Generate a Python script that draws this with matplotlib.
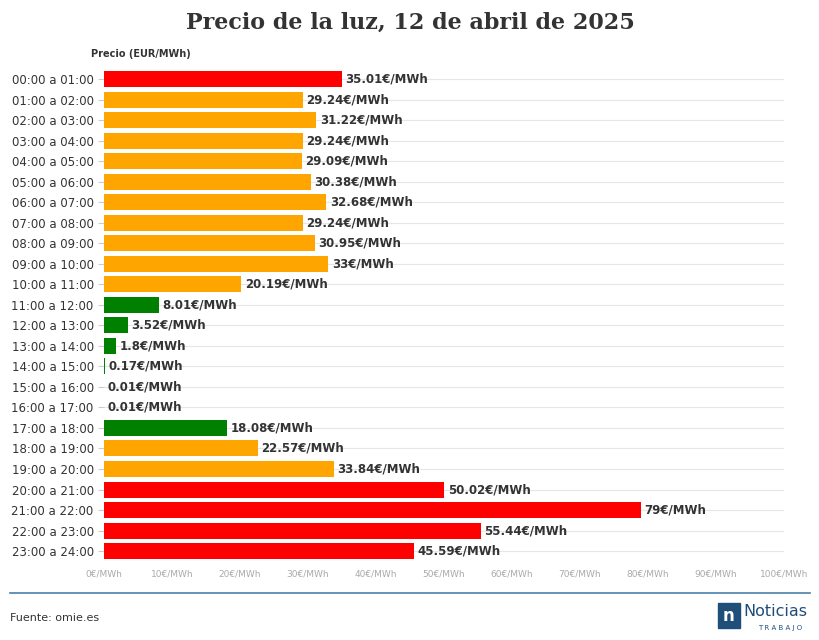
import matplotlib
matplotlib.use("Agg")
import matplotlib.pyplot as plt
from matplotlib.patches import Rectangle

hours = [f"{h:02d}:00 a {h+1:02d}:00" for h in range(24)]
prices = [35.01, 29.24, 31.22, 29.24, 29.09, 30.38, 32.68, 29.24, 30.95, 33, 20.19, 8.01,
          3.52, 1.8, 0.17, 0.01, 0.01, 18.08, 22.57, 33.84, 50.02, 79, 55.44, 45.59]
labels = ["35.01", "29.24", "31.22", "29.24", "29.09", "30.38", "32.68", "29.24", "30.95", "33",
          "20.19", "8.01", "3.52", "1.8", "0.17", "0.01", "0.01", "18.08", "22.57", "33.84",
          "50.02", "79", "55.44", "45.59"]
levels = ["r", "o", "o", "o", "o", "o", "o", "o", "o", "o", "o", "g",
          "g", "g", "g", "g", "g", "g", "o", "o", "r", "r", "r", "r"]
cmap = {"r": "#ff0000", "o": "#ffa500", "g": "#008000"}

fig = plt.figure(figsize=(8.2, 6.4), dpi=100)
ax = fig.add_axes([0.127, 0.123, 0.829, 0.769])
y = list(range(24))
ax.barh(y, prices, height=0.78, color=[cmap[l] for l in levels], zorder=3)
for yi, p, l in zip(y, prices, labels):
    ax.text(p + 0.5, yi, f"{l}€/MWh", va="center", ha="left", fontsize=8.5,
            fontweight="bold", color="#333333", zorder=4)
ax.set_ylim(23.5, -0.5)
ax.set_xlim(0, 100)
ax.set_yticks(y)
ax.set_yticklabels(hours, fontsize=8.5, color="#333333")
ax.set_xticks(range(0, 101, 10))
ax.set_xticklabels([f"{v}€/MWh" for v in range(0, 101, 10)], fontsize=6.5, color="#aaaaaa")
ax.tick_params(axis="y", length=4, color="#cccccc")
ax.tick_params(axis="x", length=0, pad=6)
ax.grid(axis="y", color="#e6e6e6", linewidth=0.8, zorder=0)
for s in ax.spines.values():
    s.set_visible(False)
ax.text(-0.02, 1.025, "Precio (EUR/MWh)", transform=ax.transAxes, fontsize=7,
        fontweight="bold", color="#333333", ha="left")

fig.text(0.5, 0.965, "Precio de la luz, 12 de abril de 2025", ha="center", va="center",
         fontsize=16, fontweight="bold", family="DejaVu Serif", color="#333333")
fig.add_artist(plt.Line2D([0.012, 0.988], [0.073, 0.073], color="#4a7fa8", linewidth=1.2))
fig.text(0.012, 0.035, "Fuente: omie.es", fontsize=8, color="#333333", va="center")
fig.add_artist(Rectangle((0.876, 0.018), 0.026, 0.04, color="#1f4e79", transform=fig.transFigure))
fig.text(0.889, 0.038, "n", fontsize=12, color="white", ha="center", va="center", fontweight="bold")
fig.text(0.906, 0.044, "Noticias", fontsize=11.5, color="#1f4e79", va="center")
fig.text(0.925, 0.018, "T R A B A J O", fontsize=5, color="#1f4e79", va="center")
fig.savefig("out.png", dpi=100, facecolor="white")
